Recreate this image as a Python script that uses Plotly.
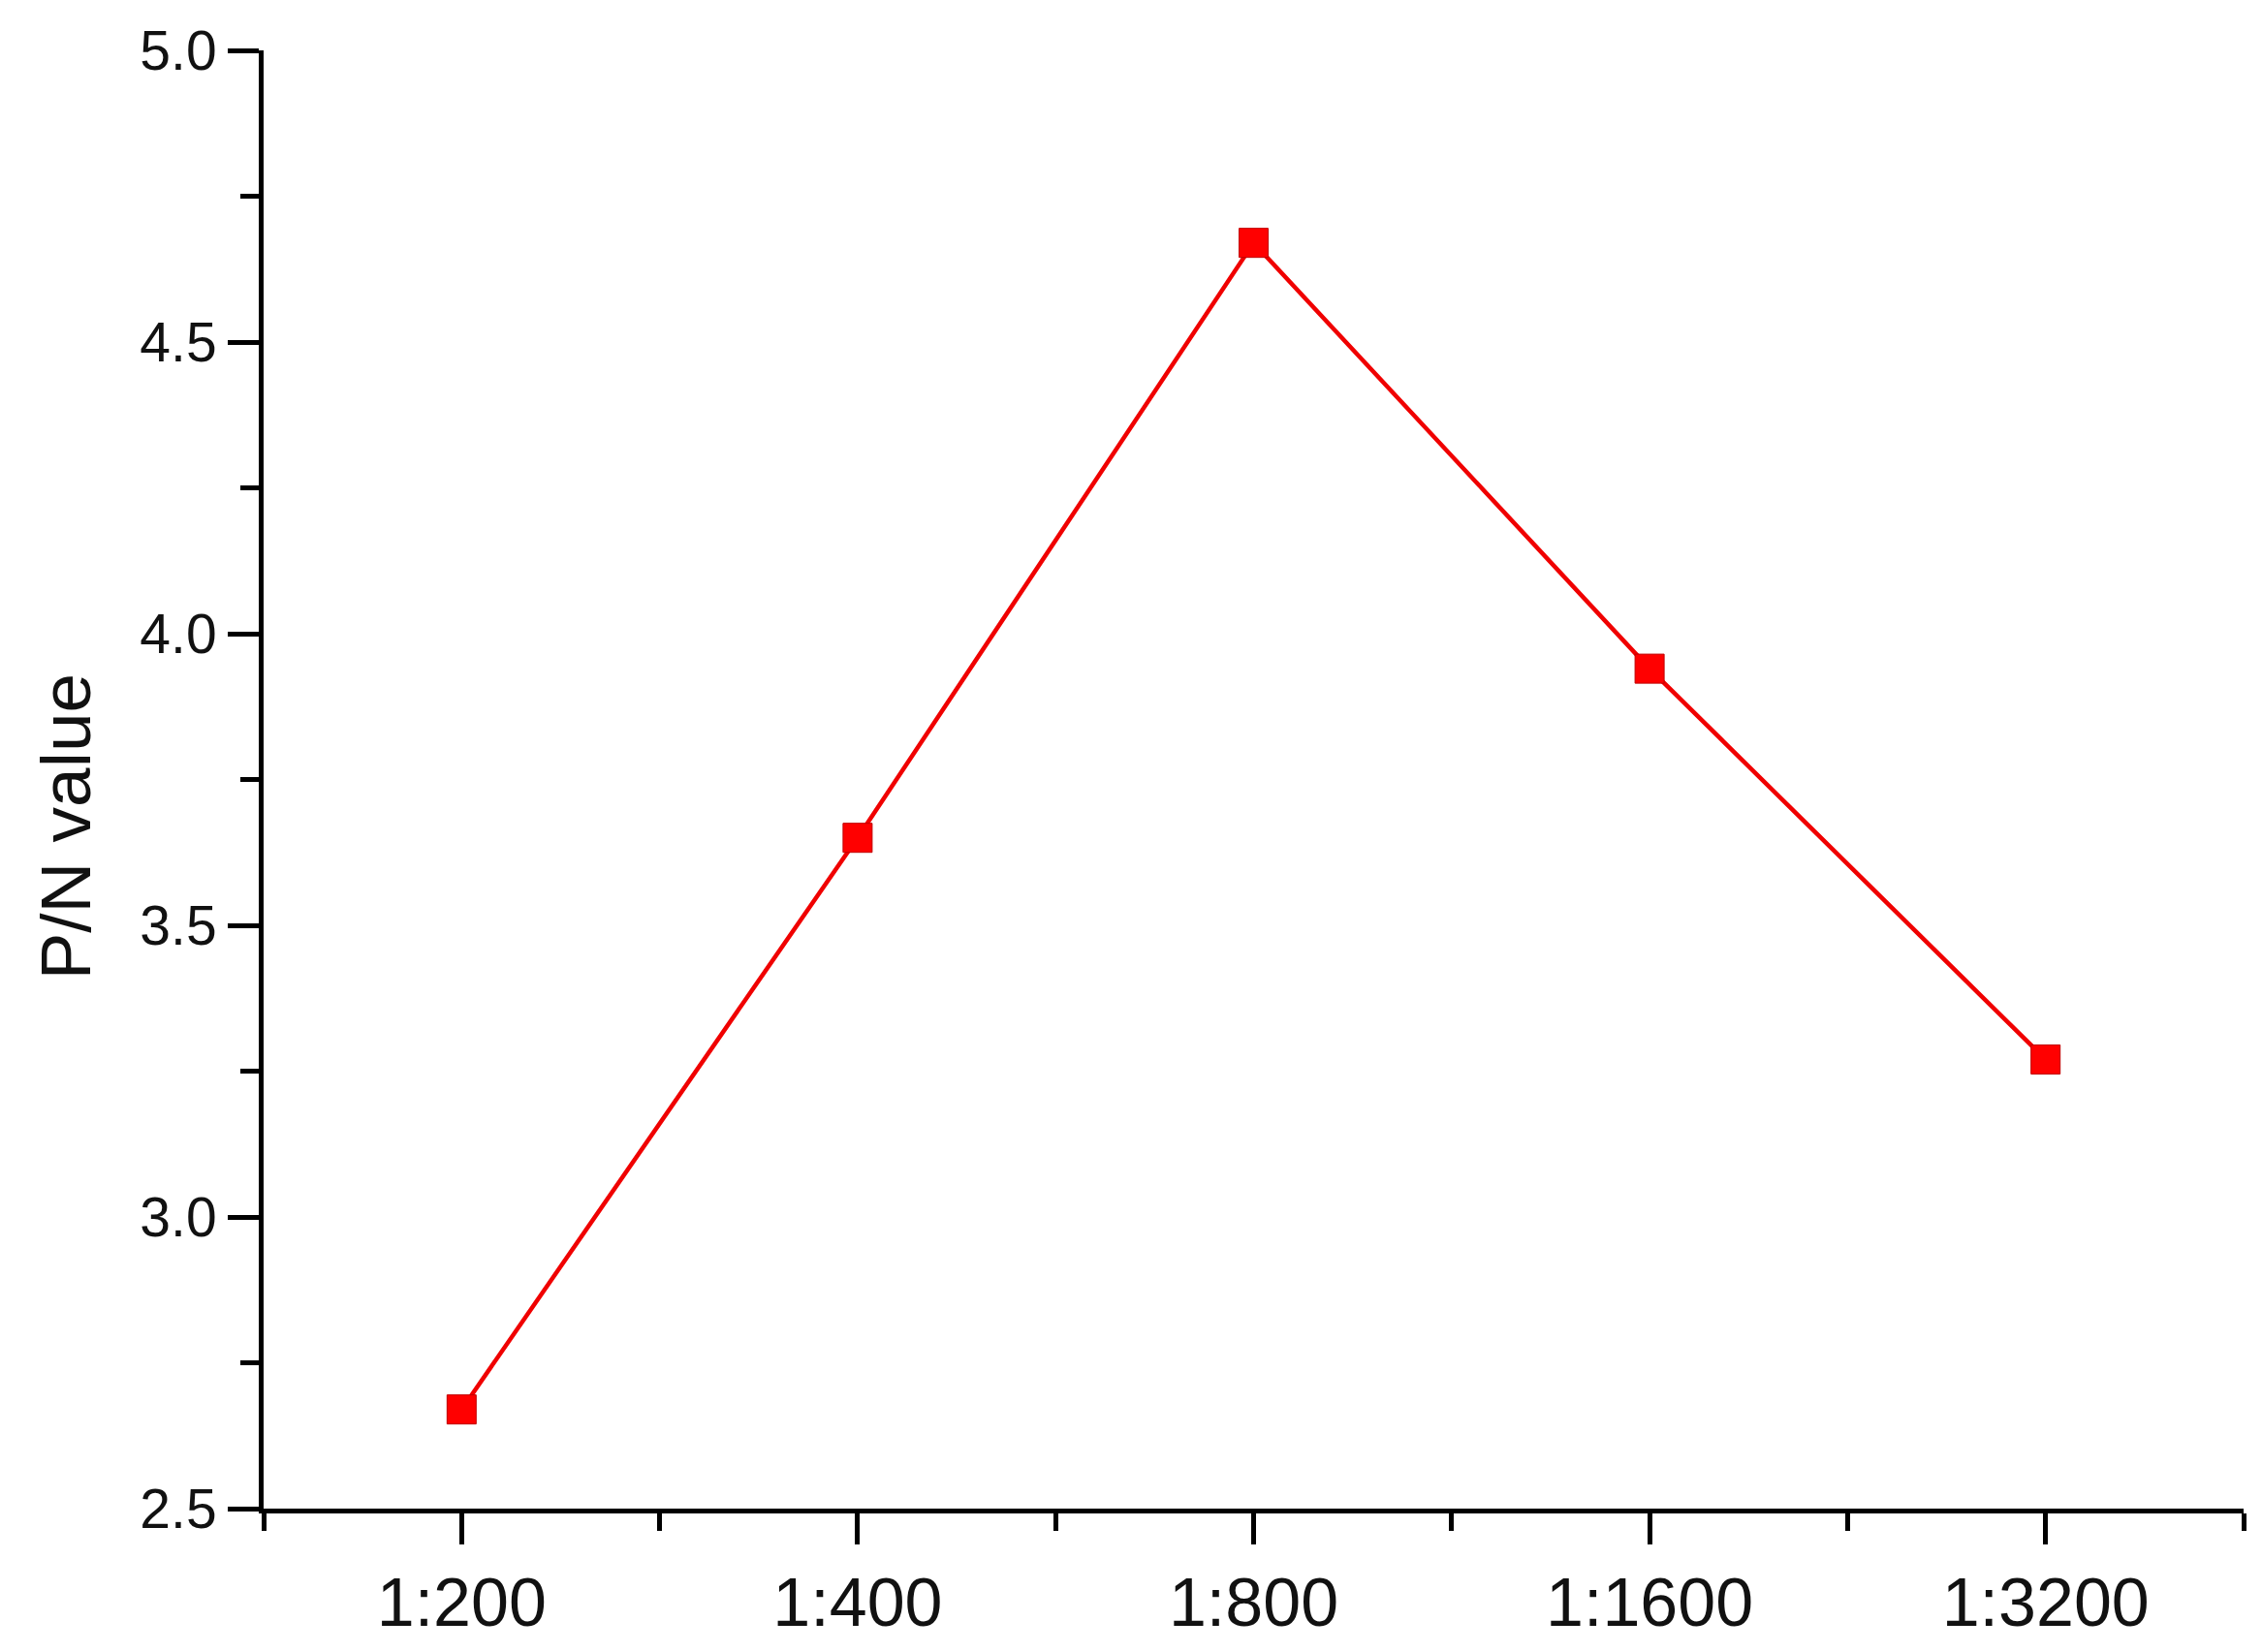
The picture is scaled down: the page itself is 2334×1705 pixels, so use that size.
import plotly.graph_objects as go

# dilution ratios and measured P/N values
dilutions = ['1:200', '1:400', '1:800', '1:1600', '1:3200']
pn_values = [2.67, 3.65, 4.67, 3.94, 3.27]

x_idx = list(range(len(dilutions)))

fig = go.Figure()

fig.add_trace(go.Scatter(
    x=x_idx,
    y=pn_values,
    mode='lines+markers',
    line=dict(color='#F00000', width=4.5),
    marker=dict(symbol='square', size=30, color='#FF0000',
                line=dict(color='#C00000', width=1)),
    showlegend=False
))

font_family = 'Liberation Sans, Arial, sans-serif'

# y title placed as an annotation: it sits a bit below the axis centre
fig.add_annotation(
    text='P/N value', textangle=-90,
    xref='paper', yref='paper', x=-0.1, y=0.468,
    xanchor='center', yanchor='middle', showarrow=False,
    font=dict(size=73, family=font_family, color='#111111')
)

fig.update_layout(
    width=2326,
    height=1697,
    paper_bgcolor='white',
    plot_bgcolor='white',
    margin=dict(l=264, r=19, t=41, b=139),
    font=dict(family=font_family, color='#111111'),
    xaxis=dict(
        range=[-0.5, 4.5],
        tickmode='array',
        tickvals=x_idx,
        ticktext=dilutions,
        ticks='outside',
        ticklen=32,
        tickwidth=5,
        tickcolor='black',
        tickfont=dict(size=70),
        showline=True,
        linecolor='black',
        linewidth=5,
        showgrid=False,
        zeroline=False,
        minor=dict(tickmode='linear', tick0=-0.5, dtick=0.5, ticks='outside',
                   ticklen=18, tickwidth=5, tickcolor='black', showgrid=False),
    ),
    yaxis=dict(
        range=[2.5, 5.0],
        tickmode='linear',
        tick0=2.5,
        dtick=0.5,
        tickformat='.1f',
        ticks='outside',
        ticklen=32,
        tickwidth=5,
        tickcolor='black',
        tickfont=dict(size=57),
        showline=True,
        linecolor='black',
        linewidth=5,
        showgrid=False,
        zeroline=False,
        minor=dict(tickmode='linear', tick0=2.5, dtick=0.25, ticks='outside',
                   ticklen=19, tickwidth=5, tickcolor='black', showgrid=False),
    ),
)

fig.write_html('out.html')
